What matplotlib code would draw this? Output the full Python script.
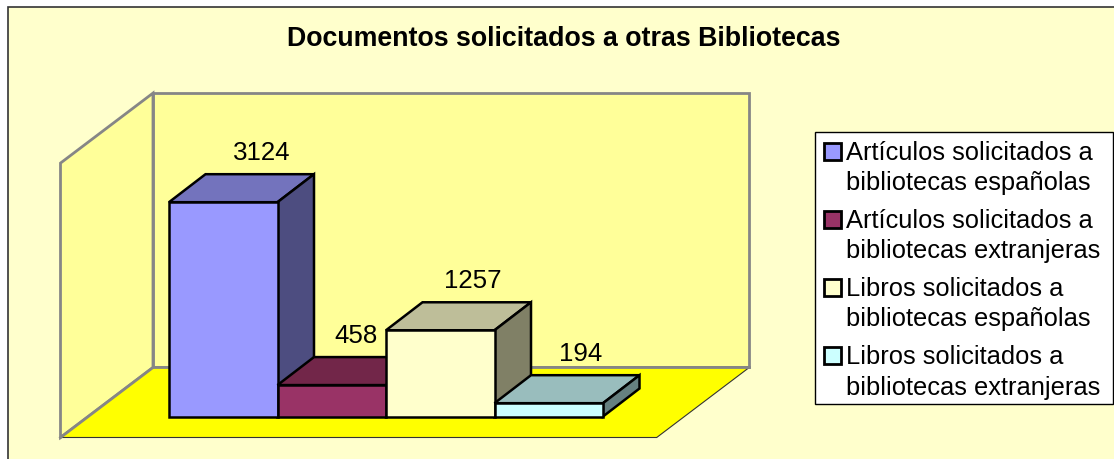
import matplotlib
matplotlib.use("Agg")
import matplotlib.pyplot as plt
from matplotlib.patches import Polygon, Rectangle

plt.rcParams["font.family"] = ["Liberation Sans", "DejaVu Sans"]

TITLE = "Documentos solicitados a otras Bibliotecas"
VALUES = [3124, 458, 1257, 194]
FRONT_COLORS = ["#9999FF", "#993366", "#FFFFCC", "#CCFFFF"]
TOP_COLORS = ["#7373BD", "#722649", "#BEBE99", "#99BDBD"]
SIDE_COLORS = ["#4D4D80", "#4D1A33", "#808066", "#668080"]
LEGEND_LINES = [
    ["Artículos solicitados a", "bibliotecas españolas"],
    ["Artículos solicitados a", "bibliotecas extranjeras"],
    ["Libros solicitados a", "bibliotecas españolas"],
    ["Libros solicitados a", "bibliotecas extranjeras"],
]
AXIS_MAX = 4000

W, H = 1114, 459
X0_PX, Y0_PX = 169, 416.5
X_UNIT, Y_UNIT = 108.5, 0.0686
DX, DY = 36.5 / X_UNIT, 28 / Y_UNIT
FLOOR_DX, FLOOR_DY = 92.5 / X_UNIT, 70 / Y_UNIT
LABEL_SHIFT_PX = [2, -12.5, -4.5, -5]
BG = "#FFFFCC"
GREY = "#868686"

fig = plt.figure(figsize=(W / 100, H / 100), dpi=100, facecolor="white")

# pixel layer for the chart frame and legend
bg = fig.add_axes([0, 0, 1, 1])
bg.set_xlim(0, W)
bg.set_ylim(H, 0)
bg.axis("off")
bg.add_patch(Rectangle((7.5, 6.5), W + 10, H + 10, fc=BG, ec="#333333", lw=1.2))
bg.text(564, 39.5, TITLE, ha="center", va="center", fontsize=19.3, fontweight="bold", color="black")

# value layer: x in bar widths, y in document counts
ax = fig.add_axes([0, 0, 1, 1])
ax.set_xlim(-X0_PX / X_UNIT, (W - X0_PX) / X_UNIT)
ax.set_ylim(-(H - Y0_PX) / Y_UNIT, Y0_PX / Y_UNIT)
ax.axis("off")
ax.patch.set_alpha(0)

fx0, fx1, fy = -1.0, 4.495, -306
bx0, bx1, by = fx0 + FLOOR_DX, fx1 + FLOOR_DX, fy + FLOOR_DY
top = by + AXIS_MAX

ax.add_patch(Polygon([(bx0, by), (bx1, by), (bx1, top), (bx0, top)], fc="#FFFF99", ec=GREY, lw=2, joinstyle="miter"))
ax.add_patch(Polygon([(fx0, fy), (bx0, by), (bx0, top), (fx0, fy + AXIS_MAX)], fc="#FFFF99", ec=GREY, lw=2, joinstyle="miter"))
ax.add_patch(Polygon([(fx0, fy), (fx1, fy), (bx1, by), (bx0, by)], fc="#FFFF00", ec="#333333", lw=0.8, joinstyle="miter"))
ax.plot([bx0, bx1], [by, by], color=GREY, lw=2)
ax.plot([bx0, fx0], [by, fy], color=GREY, lw=2)

# left to right, each bar covers the foot of the previous side face
for i, v in enumerate(VALUES):
    style = dict(ec="black", lw=1.8, joinstyle="miter", zorder=3 + i)
    ax.add_patch(Polygon([(i, v), (i + 1, v), (i + 1 + DX, v + DY), (i + DX, v + DY)], fc=TOP_COLORS[i], **style))
    ax.add_patch(Polygon([(i + 1, 0), (i + 1 + DX, DY), (i + 1 + DX, v + DY), (i + 1, v)], fc=SIDE_COLORS[i], **style))
    ax.add_patch(Polygon([(i, 0), (i + 1, 0), (i + 1, v), (i, v)], fc=FRONT_COLORS[i], **style))
    label_x = i + 0.5 + DX + LABEL_SHIFT_PX[i] / X_UNIT
    ax.text(label_x, v + DY + 21.5 / Y_UNIT, str(v), ha="center", va="center", fontsize=18.6, color="black", zorder=9)

# legend
bg.add_patch(Rectangle((815, 131.5), 297.5, 272.5, fc="white", ec="black", lw=1, zorder=2))
rows_y = [151.5, 219.5, 287.5, 356]
for y, lines, c in zip(rows_y, LEGEND_LINES, FRONT_COLORS):
    bg.add_patch(Rectangle((824, y - 9), 16.5, 17, fc=c, ec="black", lw=2, zorder=3))
    bg.text(846, y + 1.5, lines[0], ha="left", va="center", fontsize=18.4, color="black", zorder=3)
    bg.text(846, y + 31.5, lines[1], ha="left", va="center", fontsize=18.4, color="black", zorder=3)

fig.savefig("out.png", dpi=100, facecolor="white")
plt.close(fig)
